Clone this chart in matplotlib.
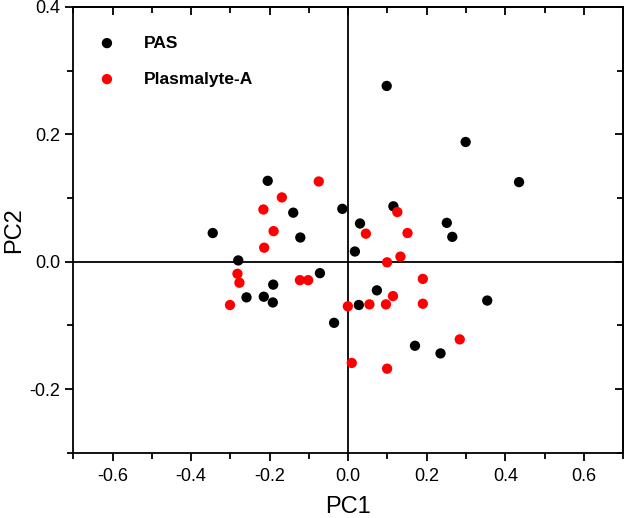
import matplotlib
matplotlib.use("Agg")
import matplotlib.pyplot as plt
from matplotlib.ticker import MultipleLocator
import numpy as np

plt.rcParams['font.family'] = ['Liberation Sans', 'DejaVu Sans']
plt.rcParams['axes.unicode_minus'] = False

# PCA scores
pas_pc1 = [-0.205, -0.140, -0.015, -0.345, -0.122, -0.280, -0.191, -0.259, -0.215, -0.192,
           -0.072, -0.036, 0.115, 0.030, 0.017, 0.251, 0.265, 0.098, 0.299, 0.435,
           0.073, 0.027, 0.170, 0.235, 0.354]
pas_pc2 = [0.127, 0.077, 0.083, 0.045, 0.038, 0.002, -0.036, -0.056, -0.055, -0.064,
           -0.018, -0.096, 0.087, 0.060, 0.016, 0.061, 0.039, 0.276, 0.188, 0.125,
           -0.045, -0.068, -0.132, -0.144, -0.061]

pla_pc1 = [-0.075, -0.169, -0.216, -0.190, -0.214, -0.282, -0.277, -0.301, -0.123, -0.102,
           -0.001, 0.125, 0.045, 0.151, 0.099, 0.133, 0.190, 0.114, 0.054, 0.096,
           0.190, 0.284, 0.009, 0.099]
pla_pc2 = [0.126, 0.101, 0.082, 0.048, 0.022, -0.019, -0.033, -0.068, -0.029, -0.029,
           -0.070, 0.078, 0.044, 0.045, -0.001, 0.008, -0.027, -0.054, -0.067, -0.067,
           -0.066, -0.122, -0.159, -0.168]

fig = plt.figure(figsize=(6.25, 5.18), dpi=100)
ax = fig.add_axes([0.1173, 0.126, 0.8797, 0.8605])

ax.axhline(0, color='black', lw=1.3, zorder=1)
ax.axvline(0, color='black', lw=1.3, zorder=1)

ax.scatter(pas_pc1, pas_pc2, s=55, color='black', edgecolors='none', label='PAS', zorder=3)
ax.scatter(pla_pc1, pla_pc2, s=55, color='#ff0000', edgecolors='none', label='Plasmalyte-A', zorder=3)

ax.set_xlim(-0.7, 0.7)
ax.set_ylim(-0.3, 0.4)
ax.xaxis.set_major_locator(MultipleLocator(0.2))
ax.xaxis.set_minor_locator(MultipleLocator(0.1))
ax.yaxis.set_major_locator(MultipleLocator(0.2))
ax.yaxis.set_minor_locator(MultipleLocator(0.1))
ax.set_xticks([-0.6, -0.4, -0.2, 0.0, 0.2, 0.4, 0.6])
ax.set_xticklabels(['-0.6', '-0.4', '-0.2', '0.0', '0.2', '0.4', '0.6'])
ax.set_yticks([-0.2, 0.0, 0.2, 0.4])
ax.set_yticklabels(['-0.2', '0.0', '0.2', '0.4'])
ax.tick_params(which='both', direction='out', width=1.3, labelsize=13, colors='black')
ax.tick_params(which='major', length=6)
ax.tick_params(which='minor', length=4)
ax.tick_params(axis='x', pad=5)

# mirrored ticks on top and right, pointing inward
top = ax.secondary_xaxis('top')
top.xaxis.set_major_locator(MultipleLocator(0.2))
top.xaxis.set_minor_locator(MultipleLocator(0.1))
top.tick_params(which='both', direction='in', width=1.3, labeltop=False)
top.tick_params(which='major', length=6)
top.tick_params(which='minor', length=4)
right = ax.secondary_yaxis('right')
right.yaxis.set_major_locator(MultipleLocator(0.2))
right.yaxis.set_minor_locator(MultipleLocator(0.1))
right.tick_params(which='both', direction='in', width=1.3, labelright=False)
right.tick_params(which='major', length=6)
right.tick_params(which='minor', length=4)

for sp in ax.spines.values():
    sp.set_linewidth(1.3)
top.spines['top'].set_linewidth(1.3)
right.spines['right'].set_linewidth(1.3)

ax.set_xlabel('PC1', fontsize=17, labelpad=8)
ax.set_ylabel('PC2', fontsize=17, labelpad=3)

ax.legend(loc='upper left', bbox_to_anchor=(0.0296, 0.936), frameon=False,
          borderpad=0, borderaxespad=0,
          prop={'weight': 'bold', 'size': 12.5}, markerscale=1.0,
          handletextpad=1.15, labelspacing=1.2, scatterpoints=1)

fig.savefig('out.png', dpi=100)
